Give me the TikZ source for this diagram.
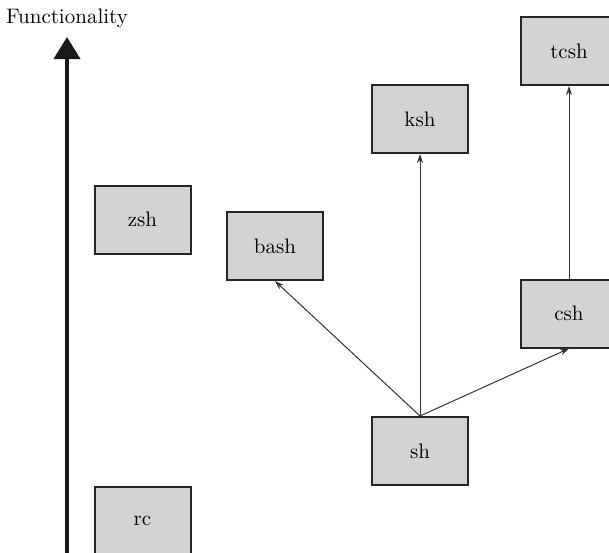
\documentclass[tikz,border=0pt]{standalone}
\usepackage{tikz}
\usetikzlibrary{arrows.meta, positioning}
\usepackage{xcolor}
\definecolor{boxgray}{RGB}{209,211,212}

\begin{document}
\begin{tikzpicture}[x=0.5pt, y=-0.5pt,
    shellbox/.style={rectangle, draw=black!85, line width=1pt, fill=boxgray, minimum width=48pt, minimum height=34pt, font=\fontsize{10.5}{12}\selectfont},
    link/.style={draw=black!80, line width=0.5pt, -{Stealth[length=4.5pt, width=3pt]}}]
    \useasboundingbox (0,0) rectangle (609,552);
    \clip (0,0) rectangle (609,552);

    % Axis
    \node (func) at (67,18) {\fontsize{10.5}{12}\selectfont Functionality};
    \coordinate (base) at (67,560);
    \coordinate (top) at (67,37);
    \draw[line width=2pt, black!90, -{Triangle[length=11pt, width=13pt]}] (base) -- (top);

    % Nodes
    \node (zsh) [shellbox] at (142.5,219.5) {zsh};
    \node (rc) [shellbox] at (142.5,521) {rc};
    \node (bash) [shellbox] at (275,246) {bash};
    \node (ksh) [shellbox] at (420,119) {ksh};
    \node (sh) [shellbox] at (420,451) {sh};
    \node (csh) [shellbox] at (569,313.5) {csh};
    \node (tcsh) [shellbox] at (569,51) {tcsh};

    % Arrows
    \draw[link] (sh.north) -- (bash.south);
    \draw[link] (sh.north) -- (ksh.south);
    \draw[link] (sh.north) -- (csh.south);
    \draw[link] (csh.north) -- (tcsh.south);
\end{tikzpicture}
\end{document}
